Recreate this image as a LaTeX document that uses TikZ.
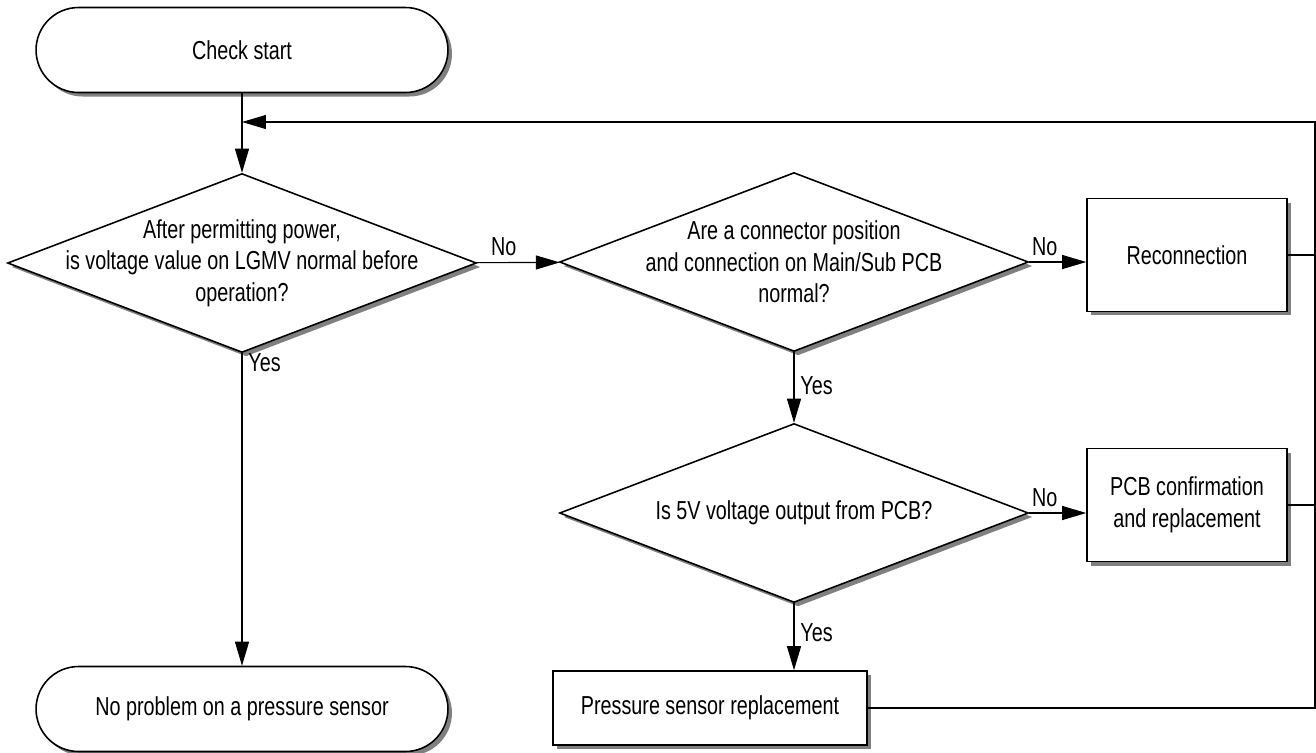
\documentclass[tikz,border=0pt]{standalone}
\usepackage{fontspec}
\setmainfont{Liberation Sans}[FakeStretch=0.76]
\usetikzlibrary{arrows.meta,positioning,shapes.geometric,shadows}

\begin{document}
\begin{tikzpicture}[x=0.02cm, y=-0.02cm, >={Triangle[length=0.48cm, width=0.28cm]},
    font=\fontsize{14.8}{18}\selectfont,
    dropbox/.style={fill=white, draw, line width=0.9pt, drop shadow={shadow xshift=0.08cm, shadow yshift=-0.08cm, fill=black!50, opacity=1}},
    terminal/.style={dropbox, rounded corners=0.85cm, minimum width=8.24cm, minimum height=1.7cm},
    decision/.style={dropbox, diamond, inner sep=0pt, minimum width=9.38cm, minimum height=3.58cm},
    action/.style={dropbox, rectangle, minimum width=4cm, minimum height=2.26cm, align=center},
    link/.style={line width=0.6pt}]
    \useasboundingbox (0,0) rectangle (1316,752);

    \node [terminal] (start) at (242,50) {Check start};
    \node [decision, label={[align=center]center:{After permitting power,\\is voltage value on LGMV normal before\\operation?}}] (power) at (242,263) {};
    \node [decision, label={[align=center]center:{Are a connector position\\and connection on Main/Sub PCB\\normal?}}] (conn) at (794,262) {};
    \node [decision, label={center:{Is 5V voltage output from PCB?}}] (volt) at (794,513) {};
    \node [action] (recon) at (1187,255) {Reconnection};
    \node [action] (pcb) at (1187,505) {PCB confirmation\\and replacement};
    \node [dropbox, minimum width=6.28cm, minimum height=1.48cm] (sensor) at (710,708) {Pressure sensor replacement};
    \node [terminal] (noprob) at (242,709) {No problem on a pressure sensor};

    \coordinate (rail) at (1315,122);
    \coordinate (join) at (start.south |- rail);

    \draw [link, ->] (start) -- (power);
    \draw [link, ->] (power) -- node [above, pos=0.33] {No} (conn);
    \draw [link, ->] (power) -- node [right, pos=0.03] {Yes} (noprob);
    \draw [link, ->] (conn.east) -- node [above, pos=0.27] {No} (conn.east -| recon.west);
    \draw [link, ->] (conn) -- node [right, pos=0.47] {Yes} (volt);
    \draw [link, ->] (volt.east) -- node [above, pos=0.27] {No} (volt.east -| pcb.west);
    \draw [link, ->] (volt.south) -- node [right, pos=0.44] {Yes} (volt.south |- sensor.north);
    \draw [link] (recon.east) -- (recon.east -| rail);
    \draw [link] (pcb.east) -- (pcb.east -| rail);
    \draw [link, ->] (sensor.east) -| (rail) -- (join);
\end{tikzpicture}
\end{document}
